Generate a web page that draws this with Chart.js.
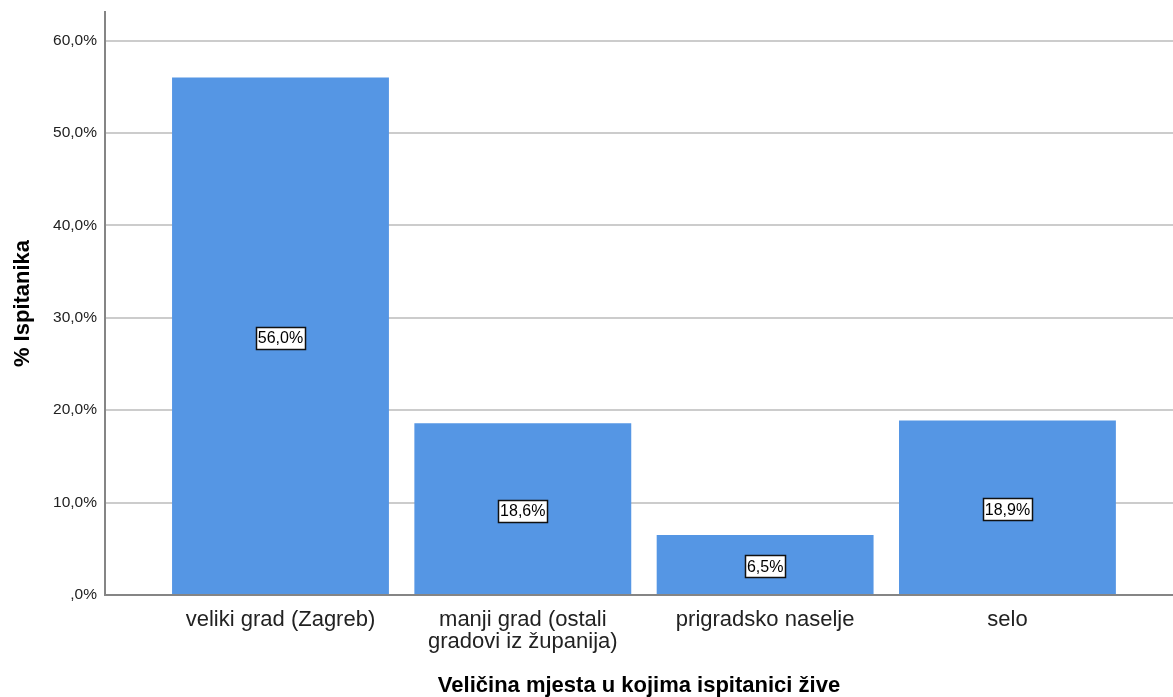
<!DOCTYPE html>
<html>
<head>
<meta charset="utf-8">
<script src="https://cdn.jsdelivr.net/npm/chart.js@4/dist/chart.umd.min.js"></script>
<style>
  html, body { margin: 0; padding: 0; background: #fff; }
  #wrap { width: 1173px; height: 697px; }
</style>
</head>
<body>
<div id="wrap"><canvas id="myChart" width="1173" height="697"></canvas></div>
<script>
// categories and values
const categories = [
    ['veliki grad (Zagreb)'],
    ['manji grad (ostali', 'gradovi iz županija)'],
    ['prigradsko naselje'],
    ['selo']
];
const percents = [56.0, 18.6, 6.5, 18.9];
const yTicks = [0, 10, 20, 30, 40, 50, 60];

const FONT = "'Liberation Sans', Arial, sans-serif";

function fmt(v) {
    // SPSS style: ",0%" for zero, comma decimal
    let s = v.toFixed(1).replace('.', ',');
    if (s.startsWith('0,')) s = s.slice(1);
    return s + '%';
}

// white boxes with values in the middle of each bar
const boxLabels = {
    id: 'boxLabels',
    afterDatasetsDraw(chart) {
        const ctx = chart.ctx;
        const meta = chart.getDatasetMeta(0);
        ctx.save();
        ctx.font = '16px ' + FONT;
        ctx.textAlign = 'center';
        ctx.textBaseline = 'middle';
        meta.data.forEach((bar, i) => {
            const txt = fmt(percents[i]);
            const cx = bar.x;
            const cy = (bar.y + bar.base) / 2 + 2;
            const w = Math.round(ctx.measureText(txt).width + 4);
            const h = 22;
            const x0 = Math.round(cx - w / 2) + 0.5;
            const y0 = Math.round(cy - h / 2) + 0.5;
            ctx.fillStyle = '#fff';
            ctx.fillRect(x0, y0, w, h);
            ctx.strokeStyle = '#111';
            ctx.lineWidth = 1.5;
            ctx.strokeRect(x0, y0, w, h);
            ctx.fillStyle = '#000';
            ctx.fillText(txt, cx, cy + 1);
        });
        ctx.restore();
    }
};

const ctx = document.getElementById('myChart');

new Chart(ctx, {
    type: 'bar',
    data: {
        datasets: [{
            data: percents.map((v, i) => ({ x: i + 1, y: v })),
            backgroundColor: '#5596e4',
            borderWidth: 0,
            categoryPercentage: 1,
            barPercentage: 0.895
        }]
    },
    options: {
        responsive: false,
        animation: false,
        layout: { padding: { top: 12, left: 0, right: 0, bottom: 0 } },
        plugins: {
            legend: { display: false },
            tooltip: { enabled: false }
        },
        scales: {
            x: {
                type: 'linear',
                offset: false,
                min: 0.2758,
                max: 4.6832,
                afterBuildTicks(scale) {
                    scale.ticks = categories.map((c, i) => ({ value: i + 1 }));
                },
                afterFit(scale) {
                    scale.height = 102;
                    scale.paddingLeft = 0;
                    scale.paddingRight = 0;
                },
                ticks: {
                    autoSkip: false,
                    maxRotation: 0,
                    padding: 6,
                    color: '#222',
                    font: { family: FONT, size: 22, lineHeight: 1.0 },
                    callback: (v) => categories[Math.round(v) - 1] || ''
                },
                grid: { display: false },
                border: { display: true, color: '#858585', width: 2 },
                title: {
                    display: true,
                    text: 'Veličina mjesta u kojima ispitanici žive',
                    color: '#000',
                    font: { family: FONT, size: 22, weight: 'bold', lineHeight: 1.0 },
                    padding: { top: 0, bottom: 0 }
                }
            },
            y: {
                min: 0,
                max: 63.1,
                afterBuildTicks(scale) {
                    scale.ticks = yTicks.map(v => ({ value: v }));
                },
                afterFit(scale) {
                    scale.width = 105;
                    scale.paddingTop = 0;
                    scale.paddingBottom = 0;
                },
                ticks: {
                    padding: 8,
                    color: '#222',
                    font: { family: FONT, size: 15.5 },
                    callback: (v) => fmt(v)
                },
                grid: {
                    color: '#cccccc',
                    lineWidth: 2,
                    drawTicks: false
                },
                border: { display: true, color: '#858585', width: 2 },
                title: {
                    display: true,
                    text: '% Ispitanika',
                    color: '#000',
                    font: { family: FONT, size: 22, weight: 'bold', lineHeight: 1.0 },
                    padding: { top: 12, bottom: 0 }
                }
            }
        }
    },
    plugins: [boxLabels]
});
</script>
</body>
</html>
